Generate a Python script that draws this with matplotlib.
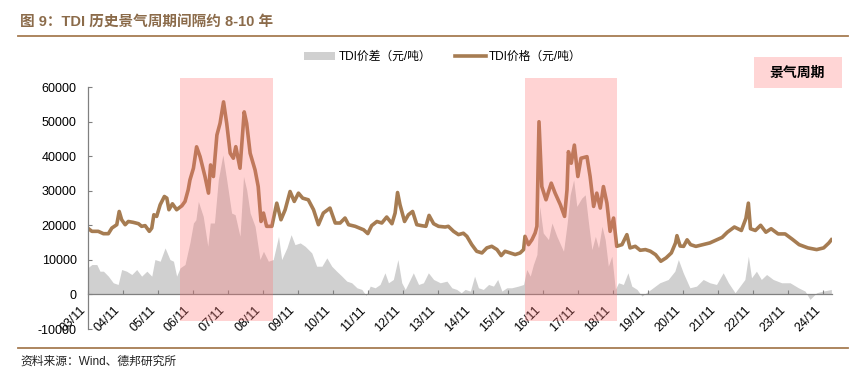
import numpy as np
import matplotlib
matplotlib.use("Agg")
import matplotlib.pyplot as plt
from matplotlib.patches import Rectangle, Patch
from matplotlib.lines import Line2D

plt.rcParams["font.family"] = ["Liberation Sans", "Noto Sans CJK SC"]
plt.rcParams["axes.unicode_minus"] = False

# ── Data (fractional years) ──────────────────────────────────────────────────
price_t = [
    2003.83, 2003.95, 2004.13, 2004.28, 2004.42, 2004.52, 2004.66, 2004.73, 2004.80, 2004.90,
    2004.99, 2005.13, 2005.28, 2005.37, 2005.47, 2005.59, 2005.66, 2005.72, 2005.80, 2005.90,
    2006.02, 2006.09, 2006.15, 2006.25, 2006.37, 2006.52, 2006.61, 2006.70, 2006.75, 2006.85,
    2006.94, 2007.04, 2007.18, 2007.28, 2007.34, 2007.42, 2007.52, 2007.61, 2007.71, 2007.80,
    2007.90, 2007.99, 2008.06, 2008.18, 2008.30, 2008.37, 2008.47, 2008.61, 2008.70, 2008.78,
    2008.85, 2008.94, 2009.09, 2009.23, 2009.35, 2009.47, 2009.61, 2009.73, 2009.85, 2009.97,
    2010.13, 2010.28, 2010.42, 2010.56, 2010.75, 2010.90, 2011.04, 2011.18, 2011.28, 2011.47,
    2011.71, 2011.83, 2011.94, 2012.09, 2012.23, 2012.37, 2012.52, 2012.61, 2012.68, 2012.75,
    2012.88, 2012.99, 2013.11, 2013.23, 2013.37, 2013.49, 2013.58, 2013.71, 2013.85, 2014.04,
    2014.13, 2014.28, 2014.42, 2014.56, 2014.66, 2014.80, 2014.94, 2015.09, 2015.23, 2015.37,
    2015.52, 2015.64, 2015.75, 2015.90, 2016.04, 2016.18, 2016.28, 2016.32, 2016.42, 2016.52,
    2016.61, 2016.66, 2016.72, 2016.80, 2016.92, 2017.07, 2017.18, 2017.33, 2017.45, 2017.52,
    2017.56, 2017.64, 2017.73, 2017.83, 2017.92, 2018.09, 2018.18, 2018.28, 2018.37, 2018.47,
    2018.56, 2018.66, 2018.75, 2018.85, 2018.94, 2019.09, 2019.23, 2019.32, 2019.47, 2019.61,
    2019.76, 2019.90, 2020.05, 2020.20, 2020.35, 2020.50, 2020.62, 2020.66, 2020.75, 2020.85,
    2020.95, 2021.05, 2021.20, 2021.40, 2021.60, 2021.80, 2021.95, 2022.10, 2022.30, 2022.50,
    2022.63, 2022.70, 2022.76, 2022.90, 2023.05, 2023.20, 2023.35, 2023.55, 2023.75, 2023.95,
    2024.15, 2024.40, 2024.65, 2024.85, 2025.00, 2025.07,
]
price_v = [
    19200, 18250, 18250, 17570, 17570, 19200, 20170, 24000, 21600, 20170,
    21100, 20850, 20460, 19700, 19900, 18250, 19200, 23050, 22570, 25940,
    28330, 27850, 24500, 26220, 24500, 25650, 26900, 30260, 33100, 36500,
    42700, 39850, 34100, 29300, 37460, 34100, 46100, 49500, 55700, 49500,
    40840, 39400, 42740, 36500, 52800, 49500, 40840, 36000, 31200, 21100,
    23540, 19700, 19700, 26400, 21600, 24500, 29770, 26900, 29300, 27850,
    27380, 24500, 20170, 23540, 24980, 20660, 20660, 22100, 20170, 19700,
    18700, 17600, 19900, 21100, 20660, 22390, 20460, 23540, 29480, 25940,
    21100, 23050, 24000, 20170, 19890, 19700, 22860, 20460, 19700, 19500,
    19700, 18250, 17300, 17700, 16800, 14400, 12480, 12000, 13460, 13920,
    12970, 11240, 12480, 12000, 11530, 12000, 12970, 16800, 14400, 15850,
    17780, 19700, 49950, 31200, 27380, 32190, 29300, 25940, 22570, 30260,
    41300, 37950, 43200, 34100, 39400, 39850, 34100, 25450, 29300, 24980,
    31200, 26400, 18250, 22100, 13920, 14400, 17290, 13460, 13920, 12770,
    12970, 12500, 11500, 9600, 10570, 12000, 14900, 17000, 14000, 13900,
    15800, 14400, 13900, 14400, 14900, 15800, 16500, 18000, 19500, 18500,
    22000, 26400, 19000, 18500, 20000, 18000, 19000, 17500, 17500, 16000,
    14400, 13460, 12970, 13460, 14900, 15800,
]

spread_t = [
    2003.83, 2003.95, 2004.09, 2004.18, 2004.28, 2004.42, 2004.56, 2004.70, 2004.80, 2004.94,
    2005.09, 2005.23, 2005.37, 2005.52, 2005.66, 2005.75, 2005.90, 2006.04, 2006.18, 2006.28,
    2006.37, 2006.47, 2006.61, 2006.75, 2006.85, 2006.92, 2006.99, 2007.13, 2007.26, 2007.33,
    2007.45, 2007.56, 2007.69, 2007.80, 2007.94, 2008.04, 2008.18, 2008.28, 2008.37, 2008.47,
    2008.61, 2008.75, 2008.85, 2008.99, 2009.13, 2009.28, 2009.37, 2009.52, 2009.64, 2009.75,
    2009.90, 2010.04, 2010.23, 2010.37, 2010.52, 2010.66, 2010.80, 2010.94, 2011.09, 2011.23,
    2011.37, 2011.52, 2011.66, 2011.78, 2011.90, 2012.04, 2012.18, 2012.32, 2012.42, 2012.56,
    2012.69, 2012.80, 2012.90, 2013.04, 2013.13, 2013.28, 2013.42, 2013.56, 2013.71, 2013.90,
    2014.09, 2014.23, 2014.37, 2014.50, 2014.61, 2014.76, 2014.88, 2014.99, 2015.13, 2015.28,
    2015.42, 2015.54, 2015.66, 2015.80, 2015.94, 2016.13, 2016.28, 2016.37, 2016.47, 2016.56,
    2016.66, 2016.74, 2016.84, 2016.99, 2017.09, 2017.23, 2017.42, 2017.52, 2017.61, 2017.71,
    2017.80, 2017.94, 2018.04, 2018.14, 2018.23, 2018.33, 2018.42, 2018.52, 2018.61, 2018.70,
    2018.80, 2018.90, 2018.99, 2019.13, 2019.26, 2019.37, 2019.52, 2019.66, 2019.85, 2020.17,
    2020.41, 2020.60, 2020.70, 2020.84, 2021.03, 2021.22, 2021.41, 2021.60, 2021.79, 2021.98,
    2022.13, 2022.32, 2022.46, 2022.60, 2022.70, 2022.79, 2022.93, 2023.07, 2023.22, 2023.41,
    2023.65, 2023.89, 2024.13, 2024.32, 2024.46, 2024.65, 2024.84, 2025.07,
]
spread_v = [
    7700, 8650, 8650, 6720, 6720, 5280, 3370, 2880, 7200, 6720,
    5760, 7200, 5280, 6720, 5280, 10090, 9600, 13460, 10090, 9600,
    5280, 7700, 8650, 15000, 20660, 21600, 26900, 22570, 13920, 20660,
    20660, 33140, 40350, 33140, 23540, 23060, 16800, 34100, 30260, 23540,
    19700, 10090, 12480, 9600, 10090, 16800, 10090, 13460, 17290, 14400,
    14900, 13920, 12000, 8160, 8160, 10570, 8160, 6720, 5280, 3840,
    3370, 1920, 1440, -290, 2400, 1920, 2880, 6250, 3370, 4320,
    10090, 3370, 1440, 4320, 6250, 2880, 3370, 6250, 4320, 3370,
    3840, 1920, 1440, 490, 1440, 960, 5280, 1920, 1440, 2880,
    2400, 4320, 960, 1920, 1920, 2400, 2880, 7200, 5280, 8650,
    11530, 25450, 17780, 15850, 20660, 16800, 12480, 20170, 28820, 33140,
    25450, 27850, 28820, 20170, 12970, 16800, 13460, 19700, 15850, 8160,
    11050, 1440, 3370, 2880, 6250, 2400, 1440, -480, 960, 3370,
    4320, 6720, 10090, 6250, 1920, 2400, 4320, 3370, 2880, 6250,
    3370, 490, 2400, 4320, 11050, 4800, 6720, 4320, 5760, 4320,
    3370, 3370, 1920, 960, -1440, 490, 960, 1440,
]

cycle_start = [2006.47, 2016.32]
cycle_end = [2009.12, 2018.95]

tick_years = np.arange(2003.83, 2025, 1.0)
tick_labels = [f"{y % 100:02d}/11" for y in range(2003, 2025)]
y_ticks = list(range(-10000, 60001, 10000))

# ── Style ─────────────────────────────────────────────────────────────────────
W, H = 866, 377
BROWN = "#A67C52"
GRAY = "#D0D0D0"
AXIS = "#808080"
TITLE_C = "#8B6B4A"

fig = plt.figure(figsize=(W / 100, H / 100), dpi=100)
ax = fig.add_axes([87.7 / W, 1 - 329 / H, (831.7 - 87.7) / W, (329 - 87) / H])

ax.fill_between(spread_t, spread_v, 0, color=GRAY, lw=0, zorder=1)
ax.plot(price_t, price_v, color=BROWN, lw=2.6, zorder=2, solid_joinstyle="round")

for s, e in zip(cycle_start, cycle_end):
    ax.add_patch(Rectangle((s, -7800), e - s, 70300, facecolor="#FF7070",
                           alpha=0.3, lw=0, clip_on=False, zorder=3))

ax.set_xlim(2003.83, 2025.08)
ax.set_ylim(-10000, 60000)

for side in ("top", "right"):
    ax.spines[side].set_visible(False)
ax.spines["bottom"].set_position(("data", 0))
for side in ("left", "bottom"):
    ax.spines[side].set_color(AXIS)
    ax.spines[side].set_linewidth(0.9)

ax.set_yticks(y_ticks)
ax.set_yticklabels([str(v) for v in y_ticks])
ax.set_xticks(tick_years)
ax.set_xticklabels(tick_labels, rotation=45, ha="right", va="top")
ax.tick_params(axis="both", direction="in", length=3, color=AXIS,
               labelsize=9, labelcolor="black")
ax.tick_params(axis="x", pad=7)
ax.tick_params(axis="y", pad=8)

# Title, rules and source
fig.text(20 / W, 1 - 22 / H, "图 9：TDI 历史景气周期间隔约 8-10 年",
         fontsize=10.5, fontweight="bold", color=TITLE_C, va="center")
fig.add_artist(Line2D([18 / W, 848 / W], [1 - 35.5 / H] * 2, color=BROWN, lw=1.3))
fig.add_artist(Line2D([18 / W, 848 / W], [1 - 348 / H] * 2, color=BROWN, lw=1.3))
fig.text(20 / W, 1 - 362 / H, "资料来源：Wind、德邦研究所",
         fontsize=8.5, color="#222222", va="center")

# Legend
handles = [
    Patch(facecolor=GRAY, edgecolor="none", label="TDI价差（元/吨）"),
    Line2D([0], [0], color=BROWN, lw=2.6, label="TDI价格（元/吨）"),
]
fig.legend(handles=handles, loc="center", bbox_to_anchor=(443 / W, 1 - 57 / H),
           ncol=2, frameon=False, fontsize=8.5, handlelength=2.6, handleheight=0.6,
           columnspacing=2.0, handletextpad=0.3)

# "景气周期" key box
fig.add_artist(Rectangle((754 / W, 1 - 88 / H), 88 / W, 31 / H,
                         transform=fig.transFigure, facecolor="#FFD5D5", lw=0))
fig.text(797 / W, 1 - 72.5 / H, "景气周期", fontsize=10, fontweight="bold",
         ha="center", va="center", color="black")

fig.savefig("out.png", dpi=100)
